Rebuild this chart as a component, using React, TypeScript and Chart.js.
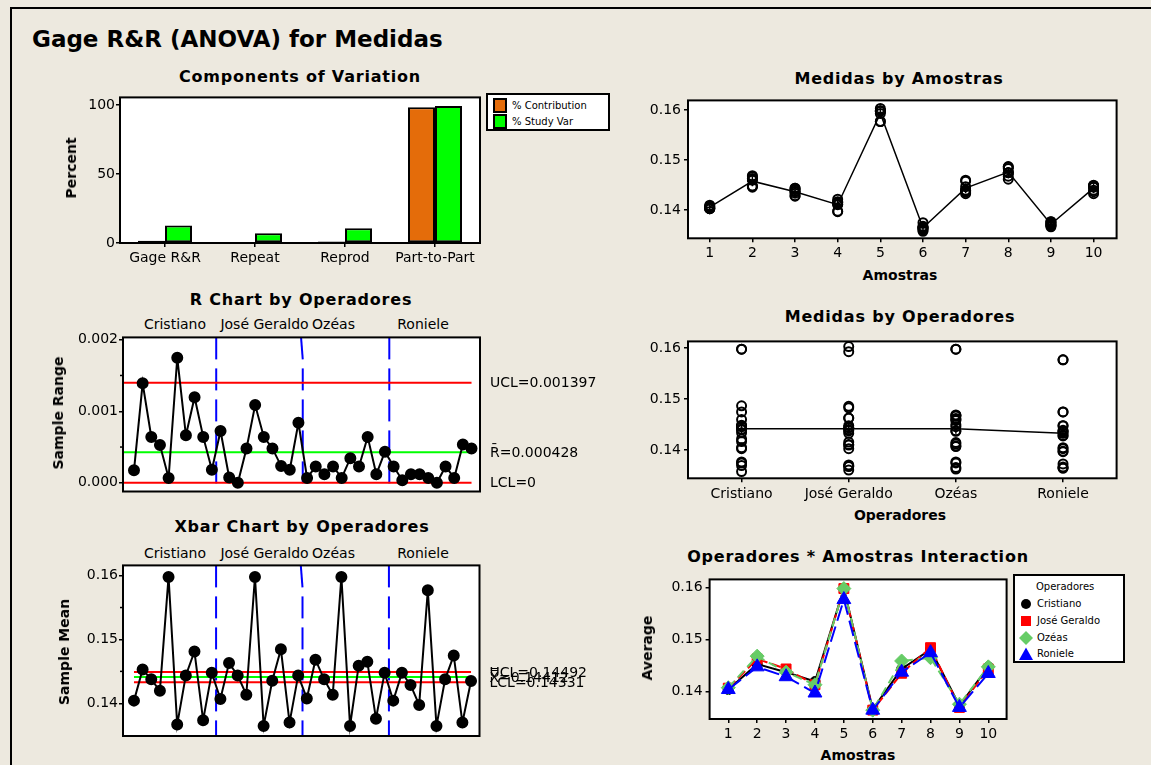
import React, { useEffect, useRef } from 'react';
import { Chart, registerables } from 'chart.js';

Chart.register(...registerables);

const FONT = '"DejaVu Sans", Verdana, sans-serif';
const BG = '#EDE9DF';
const ORANGE = '#E46C0A';
const BRIGHT_GREEN = '#00FF00';
const RED = '#FF0000';
const BLUE = '#0000FF';
const SOFT_GREEN = '#66CC66';

// ---------------- data ----------------
const components = ['Gage R&R', 'Repeat', 'Reprod', 'Part-to-Part'];
const pctContribution = [1.6, 0.5, 1.1, 98.4];
const pctStudyVar = [12.7, 7.1, 10.6, 99.2];
const percentTicks = [0, 50, 100];

const operators = ['Cristiano', 'José Geraldo', 'Ozéas', 'Roniele'];
const amostras = [1, 2, 3, 4, 5, 6, 7, 8, 9, 10];

// sample means (Xbar) per operator, parts 1..10
const meanCristiano = [0.14042, 0.14529, 0.14375, 0.14195, 0.1598, 0.13667, 0.14437, 0.14811, 0.13734, 0.14477];
const meanJose = [0.14068, 0.1463, 0.14437, 0.14134, 0.1598, 0.13646, 0.14354, 0.14846, 0.13698, 0.14437];
const meanOzeas = [0.14077, 0.14683, 0.14375, 0.14134, 0.1598, 0.13646, 0.1459, 0.14652, 0.1376, 0.14477];
const meanRoniele = [0.14042, 0.14477, 0.14288, 0.13975, 0.15769, 0.13646, 0.14375, 0.14749, 0.13698, 0.1435];

// sample ranges per operator, parts 1..10
const rangeCristiano = [0.000175, 0.00139, 0.000642, 0.000528, 0.000069, 0.001747, 0.000665, 0.001197, 0.000642, 0.000183];
const rangeJose = [0.000725, 0.000074, 0, 0.000481, 0.001087, 0.000642, 0.000481, 0.000234, 0.000183, 0.000839];
const rangeOzeas = [0.000069, 0.000229, 0.00012, 0.000229, 0.000069, 0.000344, 0.000229, 0.000642, 0.00012, 0.000436];
const rangeRoniele = [0.000229, 0.000037, 0.00012, 0.00012, 0.000069, 0, 0.000229, 0.000069, 0.000537, 0.000481];

// individual measurements (2 trials) per operator, parts 1..10
const trial1Cristiano = [0.1405, 0.146, 0.1441, 0.1422, 0.1598, 0.1375, 0.1447, 0.1487, 0.1377, 0.1449];
const trial2Cristiano = [0.1403, 0.1446, 0.1434, 0.1417, 0.1598, 0.1358, 0.144, 0.1475, 0.137, 0.1447];
const trial1Jose = [0.141, 0.1463, 0.1444, 0.1416, 0.1603, 0.1368, 0.1438, 0.1486, 0.1371, 0.1448];
const trial2Jose = [0.1403, 0.1463, 0.1444, 0.1411, 0.1593, 0.1361, 0.1433, 0.1483, 0.1369, 0.144];
const trial1Ozeas = [0.1408, 0.1469, 0.1438, 0.1415, 0.1598, 0.1366, 0.146, 0.1468, 0.1377, 0.145];
const trial2Ozeas = [0.1407, 0.1467, 0.1437, 0.1412, 0.1598, 0.1363, 0.1458, 0.1462, 0.1375, 0.1446];
const trial1Roniele = [0.1405, 0.1448, 0.1429, 0.1398, 0.1577, 0.1365, 0.1439, 0.1475, 0.1373, 0.1437];
const trial2Roniele = [0.1403, 0.1448, 0.1428, 0.1397, 0.1577, 0.1365, 0.1436, 0.1475, 0.1367, 0.1433];

const partMeans = [0.1406, 0.1458, 0.1437, 0.1411, 0.1593, 0.1365, 0.1444, 0.1476, 0.1372, 0.1444];
const operatorMeans = [0.1442, 0.1442, 0.1442, 0.1433];

const rTicks = [0, 0.001, 0.002];
const rMinorTicks = [0.0005, 0.0015];
const rLimitValues = [0.001397, 0.000428, 0];
const rLimitLabels = ['UCL=0.001397', 'R\u0304=0.000428', 'LCL=0'];

const xbarTicks = [0.14, 0.15, 0.16];
const xbarMinorTicks = [0.145, 0.155];
const xbarLimitValues = [0.14492, 0.14412, 0.14331];
const xbarLimitLabels = ['UCL=0.14492', 'X\u033F=0.14412', 'LCL=0.14331'];

const measureTicks = [0.14, 0.15, 0.16];
const groupBounds = [10.5, 20.5, 30.5];

// ---------------- derived tables ----------------
const meansByOperator = [meanCristiano, meanJose, meanOzeas, meanRoniele];
const rangesByOperator = [rangeCristiano, rangeJose, rangeOzeas, rangeRoniele];
const trialsByOperator = [
  [trial1Cristiano, trial2Cristiano],
  [trial1Jose, trial2Jose],
  [trial1Ozeas, trial2Ozeas],
  [trial1Roniele, trial2Roniele],
];
const allXbar = meansByOperator.flat();
const allRange = rangesByOperator.flat();

// ---------------- helpers ----------------
const tickFont = { family: FONT, size: 14 };

const commonOptions = {
  responsive: false,
  maintainAspectRatio: false,
  animation: false,
  devicePixelRatio: 1,
  events: [],
  plugins: { legend: { display: false }, tooltip: { enabled: false }, title: { display: false } },
};

function gridOpts() {
  return { drawOnChartArea: false, drawTicks: true, tickLength: 4, color: '#000', lineWidth: 1.5 };
}

function yLinear(min: number, max: number, ticks: number[], width: number, decimals: number | null, padding: number) {
  return {
    type: 'linear',
    position: 'left',
    min,
    max,
    afterBuildTicks: (s: any) => {
      s.ticks = ticks.map((v) => ({ value: v }));
    },
    afterFit: (s: any) => {
      s.width = width;
    },
    grid: gridOpts(),
    border: { display: false },
    ticks: {
      color: '#000',
      font: tickFont,
      padding,
      callback: (v: any) => (decimals === null ? String(v) : Number(v).toFixed(decimals)),
    },
  };
}

function xLinear(min: number, max: number, ticks: number[], height: number, padding: number, labels?: string[], display = true) {
  return {
    type: 'linear',
    position: 'bottom',
    display,
    min,
    max,
    afterBuildTicks: (s: any) => {
      s.ticks = ticks.map((v) => ({ value: v }));
    },
    afterFit: (s: any) => {
      s.height = height;
    },
    grid: gridOpts(),
    border: { display: false },
    ticks: {
      color: '#000',
      font: tickFont,
      padding,
      maxRotation: 0,
      autoSkip: false,
      callback: (v: any) => (labels ? labels[Math.round(v) - 1] : String(v)),
    },
  };
}

const framePlugin = {
  id: 'frameBox',
  beforeDraw(chart: any) {
    const { ctx, chartArea: a } = chart;
    ctx.save();
    ctx.fillStyle = '#FFFFFF';
    ctx.fillRect(a.left, a.top, a.right - a.left, a.bottom - a.top);
    ctx.restore();
  },
  afterDraw(chart: any) {
    const { ctx, chartArea: a } = chart;
    ctx.save();
    ctx.strokeStyle = '#000';
    ctx.lineWidth = 2;
    ctx.strokeRect(a.left, a.top, a.right - a.left, a.bottom - a.top);
    ctx.restore();
  },
};

function minorTicksPlugin(values: number[]) {
  return {
    id: 'minorTicks',
    afterDraw(chart: any) {
      const { ctx, chartArea: a, scales } = chart;
      ctx.save();
      ctx.strokeStyle = '#000';
      ctx.lineWidth = 1.5;
      values.forEach((v) => {
        const y = scales.y.getPixelForValue(v);
        ctx.beginPath();
        ctx.moveTo(a.left - 3, y);
        ctx.lineTo(a.left, y);
        ctx.stroke();
      });
      ctx.restore();
    },
  };
}

function groupLinesPlugin(bounds: number[]) {
  return {
    id: 'groupLines',
    beforeDatasetsDraw(chart: any) {
      const { ctx, chartArea: a, scales } = chart;
      ctx.save();
      ctx.strokeStyle = BLUE;
      ctx.lineWidth = 2;
      bounds.forEach((b, k) => {
        const x = scales.x.getPixelForValue(b);
        let n = 0;
        for (let y = a.top; y < a.bottom; y += 31, n++) {
          const y2 = Math.min(y + 22, a.bottom);
          ctx.beginPath();
          ctx.moveTo(k === 1 && n === 0 ? x - 1.7 : x, y);
          ctx.lineTo(x, y2);
          ctx.stroke();
        }
      });
      ctx.restore();
    },
  };
}

function limitLabelsPlugin(values: number[], labels: string[]) {
  return {
    id: 'limitLabels',
    afterDraw(chart: any) {
      const { ctx, chartArea: a, scales } = chart;
      ctx.save();
      ctx.font = `14px ${FONT}`;
      ctx.fillStyle = '#000';
      ctx.textBaseline = 'middle';
      ctx.textAlign = 'left';
      values.forEach((v, i) => {
        ctx.fillText(labels[i], a.right + 10, scales.y.getPixelForValue(v) + 1);
      });
      ctx.restore();
    },
  };
}

function limitDataset(value: number, from: number, to: number, color: string) {
  return {
    type: 'line',
    data: [
      { x: from, y: value },
      { x: to, y: value },
    ],
    borderColor: color,
    borderWidth: 2,
    pointRadius: 0,
    order: 5,
  };
}

// ---------------- chart configs ----------------
const componentsConfig = () => ({
  type: 'bar',
  data: {
    labels: components,
    datasets: [
      {
        label: '% Contribution',
        data: pctContribution,
        backgroundColor: ORANGE,
        borderColor: '#000',
        borderWidth: 2,
        borderSkipped: false,
        categoryPercentage: 0.6,
        barPercentage: 1,
      },
      {
        label: '% Study Var',
        data: pctStudyVar,
        backgroundColor: BRIGHT_GREEN,
        borderColor: '#000',
        borderWidth: 2,
        borderSkipped: false,
        categoryPercentage: 0.6,
        barPercentage: 1,
      },
    ],
  },
  options: {
    ...commonOptions,
    layout: { padding: { top: 5, right: 5, bottom: 0, left: 0 } },
    scales: {
      x: {
        type: 'category',
        offset: true,
        afterFit: (s: any) => {
          s.height = 30;
        },
        grid: { ...gridOpts(), offset: false },
        border: { display: false },
        ticks: { color: '#000', font: tickFont, padding: 3, maxRotation: 0, autoSkip: false },
      },
      y: yLinear(0, 105.5, percentTicks, 60, null, 1),
    },
  },
  plugins: [framePlugin],
});

const X_MIN_CTRL = -0.27;
const X_MAX_CTRL = 40.98;

const rChartConfig = () => ({
  type: 'line',
  data: {
    datasets: [
      {
        data: allRange.map((v, i) => ({ x: i + 1, y: v })),
        borderColor: '#000',
        borderWidth: 2,
        pointRadius: 5,
        pointBackgroundColor: '#000',
        pointBorderColor: '#000',
        order: 0,
      },
      limitDataset(rLimitValues[0], X_MIN_CTRL, 40, RED),
      limitDataset(rLimitValues[1], X_MIN_CTRL, 40, BRIGHT_GREEN),
      limitDataset(rLimitValues[2], X_MIN_CTRL, 40, RED),
    ],
  },
  options: {
    ...commonOptions,
    layout: { padding: { top: 7, right: 140, bottom: 11.5, left: 0 } },
    scales: {
      x: xLinear(X_MIN_CTRL, X_MAX_CTRL, [], 0, 0, undefined, false),
      y: yLinear(-0.000121, 0.002032, rTicks, 63, 3, 1),
    },
  },
  plugins: [framePlugin, groupLinesPlugin(groupBounds), minorTicksPlugin(rMinorTicks), limitLabelsPlugin(rLimitValues, rLimitLabels)],
});

const xbarChartConfig = () => ({
  type: 'line',
  data: {
    datasets: [
      {
        data: allXbar.map((v, i) => ({ x: i + 1, y: v })),
        borderColor: '#000',
        borderWidth: 2,
        pointRadius: 5,
        pointBackgroundColor: '#000',
        pointBorderColor: '#000',
        order: 0,
      },
      limitDataset(xbarLimitValues[0], 1, 40, RED),
      limitDataset(xbarLimitValues[1], 1, 40, BRIGHT_GREEN),
      limitDataset(xbarLimitValues[2], 1, 40, RED),
    ],
  },
  options: {
    ...commonOptions,
    layout: { padding: { top: 6.3, right: 140.5, bottom: 10, left: 0 } },
    scales: {
      x: xLinear(X_MIN_CTRL, X_MAX_CTRL, [], 0, 0, undefined, false),
      y: yLinear(0.13488, 0.1616, xbarTicks, 63, 2, 1),
    },
  },
  plugins: [framePlugin, groupLinesPlugin(groupBounds), minorTicksPlugin(xbarMinorTicks), limitLabelsPlugin(xbarLimitValues, xbarLimitLabels)],
});

const byPartConfig = () => ({
  type: 'line',
  data: {
    datasets: [
      {
        data: partMeans.map((v, i) => ({ x: amostras[i], y: v })),
        borderColor: '#000',
        borderWidth: 1.5,
        pointStyle: 'cross',
        pointRadius: 5,
        pointBorderColor: '#000',
        pointBorderWidth: 1.5,
        order: 0,
      },
      {
        data: amostras.flatMap((p, j) =>
          trialsByOperator.flatMap((trials) => trials.map((t) => ({ x: p, y: t[j] })))
        ),
        showLine: false,
        pointStyle: 'circle',
        pointRadius: 4.5,
        pointBorderWidth: 2,
        pointBorderColor: '#000',
        pointBackgroundColor: 'rgba(255,255,255,0)',
        order: 1,
      },
    ],
  },
  options: {
    ...commonOptions,
    layout: { padding: { top: 5.3, right: 13.4, bottom: 0, left: 0 } },
    scales: {
      x: xLinear(0.49, 10.54, amostras, 20.7, 3),
      y: yLinear(0.1344, 0.16191, measureTicks, 58, 2, 3),
    },
  },
  plugins: [framePlugin],
});

const byOperatorConfig = () => ({
  type: 'line',
  data: {
    datasets: [
      {
        data: operatorMeans.map((v, k) => ({ x: k + 1, y: v })),
        borderColor: '#000',
        borderWidth: 1.5,
        pointStyle: 'cross',
        pointRadius: 5,
        pointBorderColor: '#000',
        pointBorderWidth: 1.5,
        order: 0,
      },
      {
        data: trialsByOperator.flatMap((trials, k) =>
          trials.flatMap((t) => t.map((y) => ({ x: k + 1, y })))
        ),
        showLine: false,
        pointStyle: 'circle',
        pointRadius: 4.5,
        pointBorderWidth: 2,
        pointBorderColor: '#000',
        pointBackgroundColor: 'rgba(255,255,255,0)',
        order: 1,
      },
    ],
  },
  options: {
    ...commonOptions,
    layout: { padding: { top: 5.7, right: 13.4, bottom: 0, left: 0 } },
    scales: {
      x: xLinear(0.5, 4.5, [1, 2, 3, 4], 26.7, 4, operators),
      y: yLinear(0.13449, 0.16132, measureTicks, 58, 2, 3),
    },
  },
  plugins: [framePlugin],
});

const interactionStyles = [
  { color: '#000000', point: 'circle', radius: 5, dash: [] as number[], order: 4 },
  { color: RED, point: 'rect', radius: 7, dash: [10, 4], order: 3 },
  { color: SOFT_GREEN, point: 'rectRot', radius: 7, dash: [9, 5], order: 2 },
  { color: BLUE, point: 'triangle', radius: 8, dash: [16, 6], order: 1 },
];

const interactionConfig = () => ({
  type: 'line',
  data: {
    datasets: meansByOperator.map((means, k) => ({
      label: operators[k],
      data: means.map((v, j) => ({ x: amostras[j], y: v })),
      borderColor: interactionStyles[k].color,
      borderWidth: 2,
      borderDash: interactionStyles[k].dash,
      pointStyle: interactionStyles[k].point,
      pointRadius: interactionStyles[k].radius,
      pointBackgroundColor: interactionStyles[k].color,
      pointBorderColor: interactionStyles[k].color,
      pointBorderWidth: 1,
      order: interactionStyles[k].order,
    })),
  },
  options: {
    ...commonOptions,
    layout: { padding: { top: 6.3, right: 13.4, bottom: 0, left: 0 } },
    scales: {
      x: xLinear(0.353, 10.633, amostras, 24, 3),
      y: yLinear(0.13476, 0.16156, measureTicks, 79.6, 2, 3),
    },
  },
  plugins: [framePlugin],
});

// ---------------- components ----------------
function ChartCanvas(props: { left: number; top: number; width: number; height: number; make: () => any }) {
  const ref = useRef<HTMLCanvasElement | null>(null);
  useEffect(() => {
    if (!ref.current) return;
    const chart = new Chart(ref.current, props.make());
    return () => chart.destroy();
  }, []);
  return (
    <canvas
      ref={ref}
      width={props.width}
      height={props.height}
      style={{ position: 'absolute', left: props.left, top: props.top, width: props.width, height: props.height }}
    />
  );
}

function Text(props: {
  x: number;
  y: number;
  text: string;
  size?: number;
  bold?: boolean;
  align?: 'center' | 'left';
  rotate?: boolean;
  spacing?: number;
}) {
  const { x, y, text, size = 14, bold = false, align = 'center', rotate = false, spacing = 0 } = props;
  const tx = align === 'center' ? '-50%' : '0';
  return (
    <div
      style={{
        position: 'absolute',
        left: x,
        top: y,
        transform: `translate(${tx}, -50%)${rotate ? ' rotate(-90deg)' : ''}`,
        fontFamily: FONT,
        fontSize: size,
        fontWeight: bold ? 'bold' : 'normal',
        letterSpacing: spacing,
        whiteSpace: 'nowrap',
        lineHeight: 1,
        color: '#000',
      }}
    >
      {text}
    </div>
  );
}

function Marker(props: { kind: string; color: string; x: number; y: number }) {
  const { kind, color, x, y } = props;
  let shape: any = null;
  if (kind === 'circle') shape = <circle cx={7} cy={7} r={5} fill={color} />;
  if (kind === 'rect') shape = <rect x={2} y={2} width={10} height={10} fill={color} />;
  if (kind === 'rectRot') shape = <polygon points="7,0 14,7 7,14 0,7" fill={color} />;
  if (kind === 'triangle') shape = <polygon points="7,0.5 14,13 0,13" fill={color} />;
  return (
    <svg width={14} height={14} style={{ position: 'absolute', left: x - 7, top: y - 7 }}>
      {shape}
    </svg>
  );
}

const groupLabelX = [175, 264.5, 333.5, 423];

export default function App() {
  return (
    <div
      style={{
        position: 'absolute',
        left: 0,
        top: 0,
        width: 1151,
        height: 765,
        background: BG,
        overflow: 'hidden',
      }}
    >
      {/* outer frame */}
      <div style={{ position: 'absolute', left: 10, top: 7, width: 1141, height: 2, background: '#000' }} />
      <div style={{ position: 'absolute', left: 10, top: 7, width: 2, height: 758, background: '#000' }} />

      <Text x={32} y={39} text="Gage R&R (ANOVA) for Medidas" size={23} bold align="left" />

      {/* Components of Variation */}
      <Text x={300} y={77} text="Components of Variation" size={16} bold spacing={0.8} />
      <ChartCanvas left={60} top={88} width={425} height={185} make={componentsConfig} />
      <Text x={71} y={168} text="Percent" bold rotate />
      <div
        style={{
          position: 'absolute',
          left: 486,
          top: 93,
          width: 120,
          height: 34,
          background: '#fff',
          border: '2px solid #000',
        }}
      >
        <div style={{ position: 'absolute', left: 5, top: 3, width: 10, height: 11, background: ORANGE, border: '2px solid #000' }} />
        <div style={{ position: 'absolute', left: 5, top: 19, width: 10, height: 11, background: BRIGHT_GREEN, border: '2px solid #000' }} />
        <div style={{ position: 'absolute', left: 24, top: 3, fontFamily: FONT, fontSize: 10, lineHeight: '15px', whiteSpace: 'nowrap' }}>
          % Contribution
        </div>
        <div style={{ position: 'absolute', left: 24, top: 19, fontFamily: FONT, fontSize: 10, lineHeight: '15px', whiteSpace: 'nowrap' }}>
          % Study Var
        </div>
      </div>

      {/* R chart */}
      <Text x={301} y={300} text="R Chart by Operadores" size={16} bold spacing={0.8} />
      {operators.map((op, k) => (
        <Text key={'r' + op} x={groupLabelX[k]} y={324} text={op} />
      ))}
      <ChartCanvas left={60} top={328} width={560} height={175} make={rChartConfig} />
      <Text x={58} y={413} text="Sample Range" bold rotate />

      {/* Xbar chart */}
      <Text x={302} y={527} text="Xbar Chart by Operadores" size={16} bold spacing={0.8} />
      {operators.map((op, k) => (
        <Text key={'x' + op} x={groupLabelX[k]} y={553} text={op} />
      ))}
      <ChartCanvas left={60} top={556} width={560} height={190} make={xbarChartConfig} />
      <Text x={64} y={652} text="Sample Mean" bold rotate />

      {/* Medidas by Amostras */}
      <Text x={899} y={79} text="Medidas by Amostras" size={16} bold spacing={0.8} />
      <ChartCanvas left={630} top={89} width={500} height={170} make={byPartConfig} />
      <Text x={900} y={275} text="Amostras" bold />

      {/* Medidas by Operadores */}
      <Text x={900} y={317} text="Medidas by Operadores" size={16} bold spacing={0.8} />
      <ChartCanvas left={630} top={330} width={500} height={175} make={byOperatorConfig} />
      <Text x={900} y={515} text="Operadores" bold />

      {/* Interaction */}
      <Text x={858} y={557} text="Operadores * Amostras Interaction" size={16} bold spacing={0.8} />
      <ChartCanvas left={630} top={568} width={390} height={175} make={interactionConfig} />
      <Text x={647} y={648} text="Average" bold rotate />
      <Text x={858} y={755} text="Amostras" bold />
      <div
        style={{
          position: 'absolute',
          left: 1013,
          top: 574,
          width: 108,
          height: 85,
          background: '#fff',
          border: '2px solid #000',
        }}
      />
      <Text x={1036} y={587} text="Operadores" size={10} align="left" />
      {operators.map((op, k) => (
        <React.Fragment key={'lg' + op}>
          <Marker kind={interactionStyles[k].point} color={interactionStyles[k].color} x={1026} y={604 + k * 16.8} />
          <Text x={1037} y={604 + k * 16.8} text={op} size={10} align="left" />
        </React.Fragment>
      ))}
    </div>
  );
}
